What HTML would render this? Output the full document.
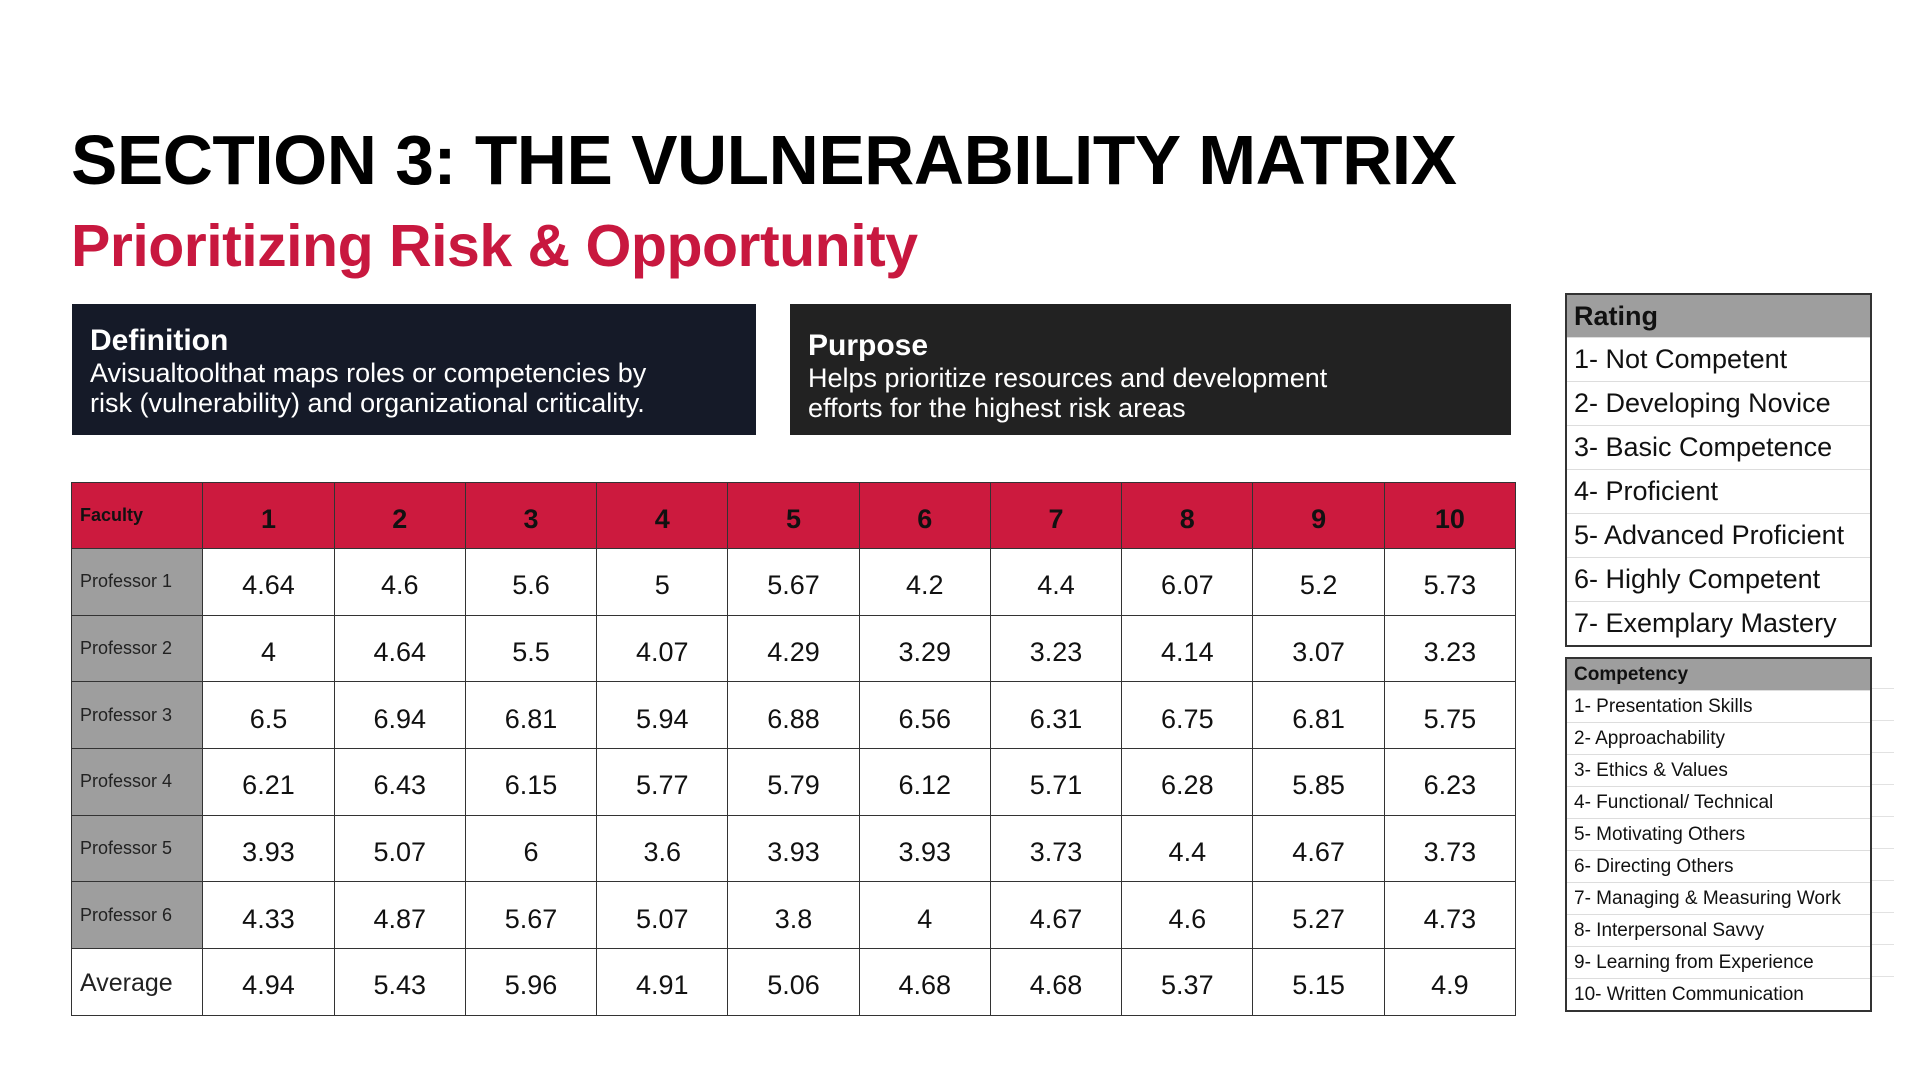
<!DOCTYPE html>
<html><head><meta charset="utf-8"><style>
*{margin:0;padding:0;box-sizing:border-box}
body{width:1920px;height:1080px;background:#fff;position:relative;overflow:hidden;font-family:"Liberation Sans",sans-serif}
.t{position:absolute;left:71px;top:120px;font-size:69.5px;font-weight:bold;color:#000;letter-spacing:-0.5px;white-space:nowrap}
.s{position:absolute;left:71px;top:212px;font-size:59px;font-weight:bold;color:#c8183f;white-space:nowrap;letter-spacing:-0.5px}
.box{position:absolute;top:304px;height:131px;color:#fff;padding:20px 18px}
.box b{display:block;font-size:30px}
.box span{display:block;font-size:27px;line-height:30px}
table.m{position:absolute;left:71px;top:482px;border-collapse:collapse;width:1445px}
table.m td{border:1.5px solid #333;height:66.7px;text-align:center;font-size:27px;color:#111;width:131.4px;padding-top:8px}
table.m tr.h td{background:#cc1a3e;font-weight:bold;font-size:27px;height:66px}
table.m td.f{background:#9e9e9e;text-align:left;padding-left:8px;padding-top:0;font-size:18px;color:#222;vertical-align:middle}
table.m tr.h td.f{background:#cc1a3e;font-weight:bold;font-size:18px;color:#111}
table.m tr.a td.f{background:#fff;font-size:25px;padding-top:4px}
.r{position:absolute;left:1565px;width:307px;border:2px solid #333;background:#fff}
.r div{border-top:1px solid #ddd;padding-left:7px;white-space:nowrap;color:#111}
.r div.hd{background:#9e9e9e;font-weight:bold;border-top:none}
.gl{position:absolute;left:1872px;width:22px;height:1px;background:#e2e2e2}
</style></head><body>
<div class="t">SECTION 3: THE VULNERABILITY MATRIX</div>
<div class="s">Prioritizing Risk &amp; Opportunity</div>
<div class="box" style="left:72px;width:684px;background:#151a28"><b>Definition</b><span style="width:600px">Avisualtoolthat maps roles or competencies by risk (vulnerability) and organizational criticality.</span></div>
<div class="box" style="left:790px;width:721px;background:#222;padding-top:25px"><b>Purpose</b><span style="width:560px">Helps prioritize resources and development efforts for the highest risk areas</span></div>
<table class="m">
<tr class="h"><td class="f">Faculty</td><td>1</td><td>2</td><td>3</td><td>4</td><td>5</td><td>6</td><td>7</td><td>8</td><td>9</td><td>10</td></tr>
<tr><td class="f">Professor 1</td><td>4.64</td><td>4.6</td><td>5.6</td><td>5</td><td>5.67</td><td>4.2</td><td>4.4</td><td>6.07</td><td>5.2</td><td>5.73</td></tr>
<tr><td class="f">Professor 2</td><td>4</td><td>4.64</td><td>5.5</td><td>4.07</td><td>4.29</td><td>3.29</td><td>3.23</td><td>4.14</td><td>3.07</td><td>3.23</td></tr>
<tr><td class="f">Professor 3</td><td>6.5</td><td>6.94</td><td>6.81</td><td>5.94</td><td>6.88</td><td>6.56</td><td>6.31</td><td>6.75</td><td>6.81</td><td>5.75</td></tr>
<tr><td class="f">Professor 4</td><td>6.21</td><td>6.43</td><td>6.15</td><td>5.77</td><td>5.79</td><td>6.12</td><td>5.71</td><td>6.28</td><td>5.85</td><td>6.23</td></tr>
<tr><td class="f">Professor 5</td><td>3.93</td><td>5.07</td><td>6</td><td>3.6</td><td>3.93</td><td>3.93</td><td>3.73</td><td>4.4</td><td>4.67</td><td>3.73</td></tr>
<tr><td class="f">Professor 6</td><td>4.33</td><td>4.87</td><td>5.67</td><td>5.07</td><td>3.8</td><td>4</td><td>4.67</td><td>4.6</td><td>5.27</td><td>4.73</td></tr>
<tr class="a"><td class="f">Average</td><td>4.94</td><td>5.43</td><td>5.96</td><td>4.91</td><td>5.06</td><td>4.68</td><td>4.68</td><td>5.37</td><td>5.15</td><td>4.9</td></tr>
</table>
<div class="r" style="top:293px;font-size:27px">
<div class="hd" style="height:42px;line-height:42px">Rating</div>
<div style="height:44px;line-height:42px">1- Not Competent</div>
<div style="height:44px;line-height:42px">2- Developing Novice</div>
<div style="height:44px;line-height:42px">3- Basic Competence</div>
<div style="height:44px;line-height:42px">4- Proficient</div>
<div style="height:44px;line-height:42px">5- Advanced Proficient</div>
<div style="height:44px;line-height:42px">6- Highly Competent</div>
<div style="height:44px;line-height:42px">7- Exemplary Mastery</div>
</div>
<div class="r" style="top:657px;font-size:19px">
<div class="hd" style="height:31px;line-height:31px">Competency</div>
<div style="height:32px;line-height:32px">1- Presentation Skills</div>
<div style="height:32px;line-height:32px">2- Approachability</div>
<div style="height:32px;line-height:32px">3- Ethics &amp; Values</div>
<div style="height:32px;line-height:32px">4- Functional/ Technical</div>
<div style="height:32px;line-height:32px">5- Motivating Others</div>
<div style="height:32px;line-height:32px">6- Directing Others</div>
<div style="height:32px;line-height:32px">7- Managing &amp; Measuring Work</div>
<div style="height:32px;line-height:32px">8- Interpersonal Savvy</div>
<div style="height:32px;line-height:32px">9- Learning from Experience</div>
<div style="height:32px;line-height:32px">10- Written Communication</div>
</div>
<div class="gl" style="top:688px"></div><div class="gl" style="top:720px"></div><div class="gl" style="top:752px"></div><div class="gl" style="top:784px"></div><div class="gl" style="top:816px"></div><div class="gl" style="top:848px"></div><div class="gl" style="top:880px"></div><div class="gl" style="top:912px"></div><div class="gl" style="top:944px"></div><div class="gl" style="top:976px"></div>
</body></html>
